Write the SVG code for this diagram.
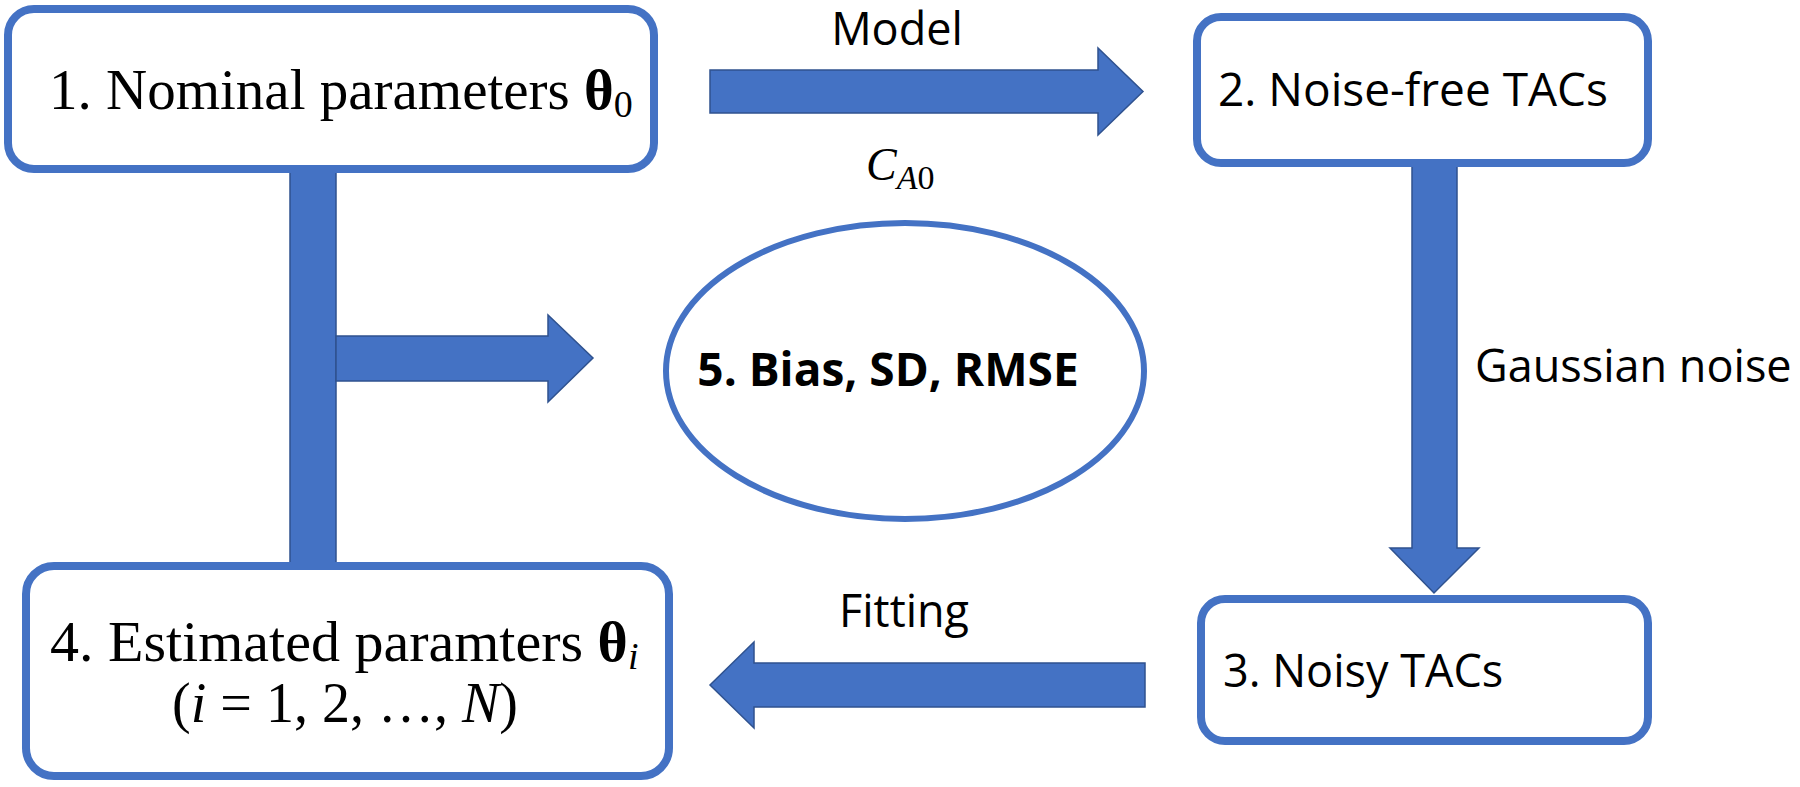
<svg xmlns="http://www.w3.org/2000/svg" width="1800" height="787" viewBox="0 0 1800 787">
<style>
.box{fill:#fff;stroke:#4472C4;stroke-width:8}
.arr{fill:#4472C4;stroke:#2F528F;stroke-width:1.5}
.serif{font-family:"Liberation Serif","Times New Roman",serif;font-size:57px;fill:#000}
.sans{font-family:"Open Sans","Noto Sans","Liberation Sans",sans-serif;font-size:45px;fill:#000}
.b{font-weight:bold}
.i{font-style:italic}
</style>
<rect width="1800" height="787" fill="#fff"/>
<g id="connectors">
<rect class="arr" x="290" y="172" width="46" height="393"/>
<path class="arr" d="M336,336 H548 V315 L593,358 L548,402 V381 H336 Z"/>
<path class="arr" d="M710,70 H1098 V48 L1143,91.5 L1098,135 V113 H710 Z"/>
<path class="arr" d="M1412,163 V548 H1390 L1434,593 L1479,548 H1457 V163 Z"/>
<path class="arr" d="M1145,663 H754 V642 L710,685 L754,728 V707 H1145 Z"/>
<text class="sans" x="897" y="45" text-anchor="middle">Model</text>
<text class="serif i" x="866" y="180" style="font-size:46px">C<tspan dy="9" style="font-size:34px">A</tspan><tspan style="font-size:34px;font-style:normal">0</tspan></text>
<text class="sans" x="1475" y="382">Gaussian noise</text>
<text class="sans" x="839" y="627">Fitting</text>
</g>
<g id="node1">
<rect class="box" x="8" y="9" width="646" height="160" rx="26"/>
<text class="serif" x="49" y="109">1. Nominal parameters <tspan class="b">θ</tspan><tspan dy="8" style="font-size:38px">0</tspan></text>
</g>
<g id="node2">
<rect class="box" x="1197" y="17" width="451" height="146" rx="24"/>
<text class="sans" x="1218" y="106" style="font-size:46px">2. Noise-free TACs</text>
</g>
<g id="node3">
<rect class="box" x="1201" y="599" width="447" height="142" rx="24"/>
<text class="sans" x="1223" y="687">3. Noisy TACs</text>
</g>
<g id="node4">
<rect class="box" x="26" y="566" width="643" height="210" rx="28"/>
<text class="serif" x="50" y="661" style="font-size:58px">4. Estimated paramters <tspan class="b">θ</tspan><tspan class="i" dy="8" style="font-size:38px">i</tspan></text>
<text class="serif" x="345" y="722" text-anchor="middle" style="font-size:56px">(<tspan class="i">i</tspan> = 1, 2, …, <tspan class="i">N</tspan>)</text>
</g>
<g id="node5">
<ellipse cx="905" cy="371" rx="239" ry="148" fill="#fff" stroke="#4472C4" stroke-width="6"/>
<text class="sans b" x="888" y="386" text-anchor="middle" style="font-size:46px">5. Bias, SD, RMSE</text>
</g>
</svg>
